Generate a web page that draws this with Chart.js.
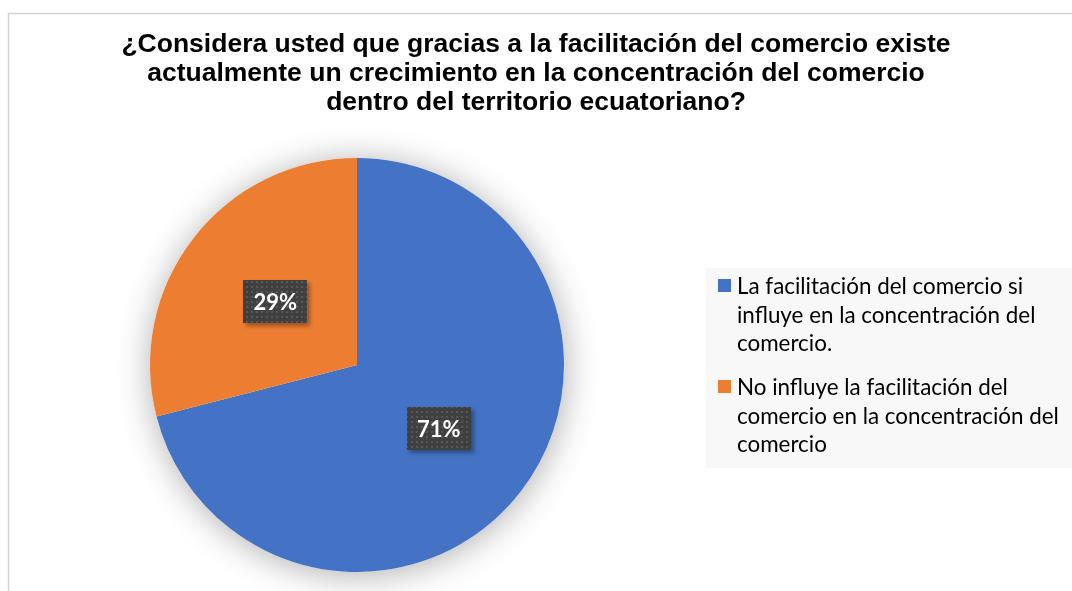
<!DOCTYPE html>
<html>
<head>
<meta charset="utf-8">
<script src="https://cdn.jsdelivr.net/npm/chart.js@4"></script>
<style>
  html, body { margin: 0; padding: 0; background: #fff; }
  #wrap { width: 1072px; height: 591px; }
</style>
</head>
<body>
<div id="wrap"><canvas id="pieChart"></canvas></div>
<script>
var titleLines = [
    '¿Considera usted que gracias a la facilitación del comercio existe',
    'actualmente un crecimiento en la concentración del comercio',
    'dentro del territorio ecuatoriano?'
];
var categories = [
    'La facilitación del comercio si influye en la concentración del comercio.',
    'No influye la facilitación del comercio en la concentración del comercio'
];
var legendLines = [
    ['La facilitación del comercio si', 'influye en la concentración del', 'comercio.'],
    ['No influye la facilitación del', 'comercio en la concentración del', 'comercio']
];
var values = [71, 29];
var colors = ['#4472C4', '#ED7D31'];

// patron punteado de las etiquetas
function dotPattern(ctx) {
    var c = document.createElement('canvas');
    c.width = 5; c.height = 5;
    var p = c.getContext('2d');
    p.fillStyle = '#404040';
    p.fillRect(0, 0, 5, 5);
    p.fillStyle = '#575757';
    p.fillRect(1, 1, 2, 2);
    return ctx.createPattern(c, 'repeat');
}

var decor = {
    id: 'decor',
    beforeDraw: function (chart) {
        var ctx = chart.ctx;
        ctx.save();
        ctx.fillStyle = '#fff';
        ctx.fillRect(0, 0, chart.width, chart.height);
        // marco
        ctx.strokeStyle = '#d4d4d4';
        ctx.lineWidth = 1.5;
        ctx.beginPath();
        ctx.moveTo(8.5, chart.height);
        ctx.lineTo(8.5, 13.5);
        ctx.lineTo(chart.width, 13.5);
        ctx.stroke();
        // titulo
        ctx.fillStyle = '#000';
        ctx.font = 'bold 26.5px "Liberation Sans", Arial, sans-serif';
        ctx.textAlign = 'center';
        ctx.textBaseline = 'middle';
        titleLines.forEach(function (t, i) {
            ctx.fillText(t, 536, 45 + i * 29);
        });
        // leyenda
        ctx.fillStyle = '#f8f8f8';
        ctx.fillRect(706, 268, 366, 200);
        ctx.font = '22.4px Lato, "Open Sans", sans-serif';
        ctx.textAlign = 'left';
        legendLines.forEach(function (lines, k) {
            var y0 = 287 + k * 101;
            ctx.fillStyle = colors[k];
            ctx.fillRect(718, y0 - 8, 13, 13);
            ctx.fillStyle = '#000';
            lines.forEach(function (t, i) {
                ctx.fillText(t, 737, y0 + i * 28.5);
            });
        });
        ctx.restore();
    },
    beforeDatasetsDraw: function (chart) {
        var arc = chart.getDatasetMeta(0).data[0];
        var ctx = chart.ctx;
        ctx.save();
        ctx.shadowColor = 'rgba(0,0,0,0.32)';
        ctx.shadowBlur = 34;
        ctx.shadowOffsetX = 1;
        ctx.shadowOffsetY = 3;
        ctx.fillStyle = '#fff';
        ctx.beginPath();
        ctx.arc(arc.x, arc.y, arc.outerRadius, 0, Math.PI * 2);
        ctx.fill();
        ctx.restore();
    },
    afterDatasetsDraw: function (chart) {
        var ctx = chart.ctx;
        var meta = chart.getDatasetMeta(0);
        var total = values.reduce(function (a, b) { return a + b; }, 0);
        var pat = dotPattern(ctx);
        ctx.save();
        ctx.font = 'bold 22px Lato, "Open Sans", sans-serif';
        ctx.textAlign = 'center';
        ctx.textBaseline = 'middle';
        meta.data.forEach(function (el, i) {
            var pos = el.tooltipPosition();
            var txt = Math.round(values[i] / total * 100) + '%';
            var w = 64, h = 43;
            ctx.save();
            ctx.shadowColor = 'rgba(0,0,0,0.35)';
            ctx.shadowBlur = 4;
            ctx.shadowOffsetX = 3;
            ctx.shadowOffsetY = 3;
            ctx.fillStyle = pat;
            ctx.fillRect(Math.round(pos.x - w / 2), Math.round(pos.y - h / 2), w, h);
            ctx.restore();
            ctx.fillStyle = '#fff';
            ctx.fillText(txt, pos.x, pos.y + 1);
        });
        ctx.restore();
    }
};

new Chart(document.getElementById('pieChart'), {
    type: 'pie',
    data: {
        labels: categories,
        datasets: [{
            data: values,
            backgroundColor: colors,
            borderWidth: 0,
            hoverOffset: 0
        }]
    },
    options: {
        responsive: true,
        maintainAspectRatio: false,
        animation: false,
        events: [],
        layout: {
            padding: { left: 150, right: 508, top: 158, bottom: 19 }
        },
        plugins: {
            legend: { display: false },
            title: { display: false },
            tooltip: { enabled: false }
        }
    },
    plugins: [decor]
});
</script>
</body>
</html>
